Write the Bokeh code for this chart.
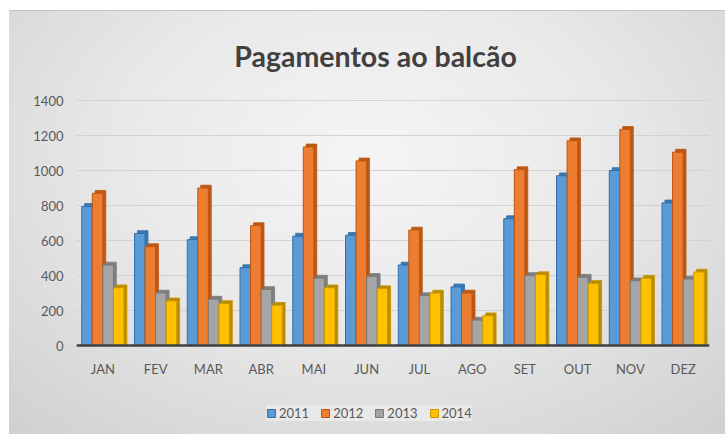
from bokeh.plotting import figure
from bokeh.models import ColumnDataSource, Range1d, Legend, LegendItem, FixedTicker, Label
from bokeh.transform import dodge
from bokeh.embed import file_html
from bokeh.resources import INLINE

meses = ["JAN", "FEV", "MAR", "ABR", "MAI", "JUN", "JUL", "AGO", "SET", "OUT", "NOV", "DEZ"]
anos = ["2011", "2012", "2013", "2014"]
v2011 = [795, 640, 605, 445, 625, 630, 460, 335, 725, 970, 1000, 815]
v2012 = [870, 565, 900, 685, 1135, 1055, 660, 300, 1005, 1170, 1235, 1105]
v2013 = [460, 300, 265, 320, 385, 395, 285, 145, 400, 390, 370, 380]
v2014 = [330, 255, 240, 230, 330, 325, 300, 170, 405, 355, 385, 420]
y_ticks = [0, 200, 400, 600, 800, 1000, 1200, 1400]
titulo = "Pagamentos ao balcão"

front_colors = ["#5B9BD5", "#ED7D31", "#A5A5A5", "#FFC000"]
edge_colors = ["#2F6EAA", "#C0540F", "#7A7A7A", "#C99700"]
side_colors = ["#3A78B5", "#B85A18", "#7F7F7F", "#B88A00"]

series = [v2011, v2012, v2013, v2014]
data = {"mes": meses}
for a, vals in zip(anos, series):
    data["v" + a] = vals
    data["b" + a] = [v + 16 for v in vals]
source = ColumnDataSource(data)

FONT = "Lato"
W, H = 725, 434
LEFT, RIGHT = 76, 16
ZERO_PX = 345
K = 0.175  # px per unit

bg = ("linear-gradient(#c4c4c4, #c4c4c4) 9px 10px / 716px 1px no-repeat, "
      "radial-gradient(ellipse 75% 90% at 50% 35%, #f5f5f5 0%, #e9e9e9 45%, #cfcfcf 100%) 9px 10px / 716px 424px no-repeat, "
      "#ffffff")

p = figure(x_range=meses,
           y_range=Range1d(-(H - ZERO_PX) / K, ZERO_PX / K),
           width=W, height=H, output_backend="svg", toolbar_location=None,
           min_border_left=LEFT, min_border_right=RIGHT, min_border_top=0, min_border_bottom=0,
           styles={"background": bg})
p.border_fill_alpha = 0
p.background_fill_alpha = 0
p.outline_line_color = None

offsets = [-0.3, -0.1, 0.1, 0.3]
w = 0.2
items = []
for i, a in enumerate(anos):
    p.vbar(x=dodge("mes", offsets[i] + 0.055, range=p.x_range), top="b" + a, bottom=0,
           width=w, source=source, fill_color=side_colors[i], line_color=edge_colors[i], line_width=0.8)
    r = p.vbar(x=dodge("mes", offsets[i], range=p.x_range), top="v" + a, bottom=0,
               width=w, source=source, fill_color=front_colors[i], line_color=edge_colors[i], line_width=1)
    items.append(LegendItem(label=a, renderers=[r]))

p.add_layout(Label(text=titulo, x=375 - LEFT, y=H - 55, x_units="screen", y_units="screen",
                   text_align="center", text_baseline="alphabetic",
                   text_font=FONT, text_font_size="28.5px", text_font_style="bold",
                   text_color="#404040"))

p.yaxis.ticker = FixedTicker(ticks=y_ticks)
p.yaxis.axis_line_color = None
p.yaxis.major_tick_line_color = None
p.yaxis.minor_tick_line_color = None
p.yaxis.major_tick_out = 0
p.yaxis.major_tick_in = 0
p.yaxis.major_label_standoff = 13
p.yaxis.major_label_text_font = FONT
p.yaxis.major_label_text_font_size = "13px"
p.yaxis.major_label_text_color = "#595959"

p.xaxis.fixed_location = 0
p.xaxis.axis_line_color = "#404040"
p.xaxis.axis_line_width = 2.5
p.xaxis.major_tick_line_color = None
p.xaxis.minor_tick_line_color = None
p.xaxis.major_tick_out = 0
p.xaxis.major_tick_in = 0
p.xaxis.major_label_standoff = 15
p.xaxis.major_label_text_font = FONT
p.xaxis.major_label_text_font_size = "13px"
p.xaxis.major_label_text_color = "#595959"

p.xgrid.grid_line_color = None
p.ygrid.ticker = FixedTicker(ticks=y_ticks)
p.ygrid.grid_line_color = "#d2d2d2"
p.ygrid.grid_line_width = 1

legend = Legend(items=items, orientation="horizontal", location=(190, 13),
                background_fill_color="#ebebeb", background_fill_alpha=0.85,
                border_line_color=None, glyph_width=10, glyph_height=10,
                label_standoff=3, spacing=11, padding=10, margin=0,
                label_text_font=FONT, label_text_font_size="13px", label_text_color="#595959")
p.add_layout(legend)

open("out.html", "w").write(file_html(p, INLINE))
